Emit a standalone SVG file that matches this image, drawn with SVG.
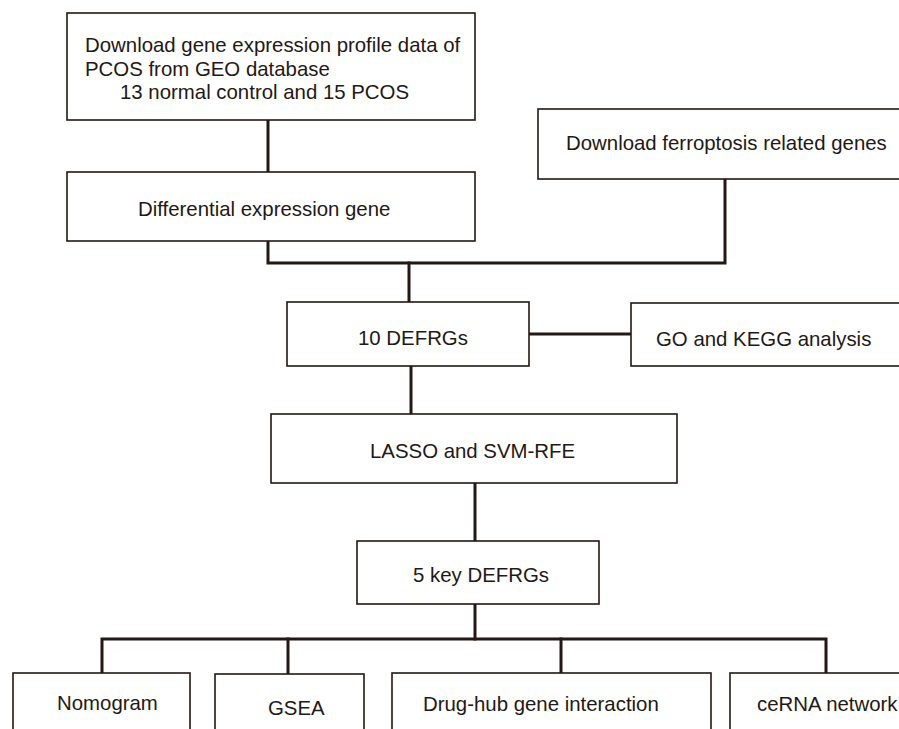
<svg xmlns="http://www.w3.org/2000/svg" width="899" height="729" viewBox="0 0 899 729">
<style>
.box{fill:#fff;stroke:#231815;stroke-width:1.6}
.t{font-family:"Liberation Sans",Arial,sans-serif;font-size:20.4px;fill:#231815}
.c{fill:none;stroke:#231815;stroke-width:3;stroke-linecap:square;stroke-linejoin:miter}
</style>
<rect width="899" height="729" fill="#fff"/>
<g id="connectors">
<path class="c" d="M268,120 V172"/>
<path class="c" d="M268,241 V263 H725 V179"/>
<path class="c" d="M409,263 V302"/>
<path class="c" d="M529,334 H631"/>
<path class="c" d="M411,366 V414"/>
<path class="c" d="M475,483 V541"/>
<path class="c" d="M475,604 V639"/>
<path class="c" d="M102,673 V639 H826 V673"/>
<path class="c" d="M288,639 V674"/>
<path class="c" d="M561,639 V673"/>
</g>
<g id="n1"><rect class="box" x="67" y="13" width="408" height="107"/>
<text class="t" x="85" y="52">Download gene expression profile data of</text>
<text class="t" x="85" y="75.5">PCOS from GEO database</text>
<text class="t" x="120" y="99">13 normal control and 15 PCOS</text></g>
<g id="n2"><rect class="box" x="67" y="172" width="408" height="69"/>
<text class="t" x="138" y="216">Differential expression gene</text></g>
<g id="n3"><rect class="box" x="538" y="109" width="370" height="70"/>
<text class="t" x="566" y="150">Download ferroptosis related genes</text></g>
<g id="n4"><rect class="box" x="287" y="302" width="242" height="64"/>
<text class="t" x="358" y="345">10 DEFRGs</text></g>
<g id="n5"><rect class="box" x="631" y="303" width="277" height="63"/>
<text class="t" x="656" y="346">GO and KEGG analysis</text></g>
<g id="n6"><rect class="box" x="271" y="414" width="406" height="69"/>
<text class="t" x="370" y="458">LASSO and SVM-RFE</text></g>
<g id="n7"><rect class="box" x="357" y="541" width="242" height="63"/>
<text class="t" x="413" y="582">5 key DEFRGs</text></g>
<g id="n8"><rect class="box" x="13" y="673" width="177" height="70"/>
<text class="t" x="57" y="710">Nomogram</text></g>
<g id="n9"><rect class="box" x="215" y="674" width="149" height="70"/>
<text class="t" x="268" y="715">GSEA</text></g>
<g id="n10"><rect class="box" x="392" y="673" width="319" height="70"/>
<text class="t" x="423" y="711">Drug-hub gene interaction</text></g>
<g id="n11"><rect class="box" x="730" y="673" width="180" height="70"/>
<text class="t" x="757" y="711">ceRNA network</text></g>
</svg>
